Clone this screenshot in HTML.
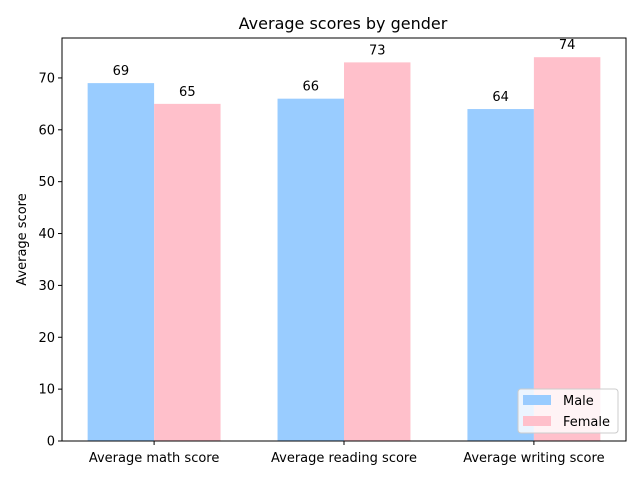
<!DOCTYPE html>
<html><head><meta charset="utf-8"><style>
body{margin:0;background:#fff;font-family:"Liberation Sans","DejaVu Sans",sans-serif;}
svg text{font-family:"DejaVu Sans","Liberation Sans",sans-serif;}
</style></head><body>
<svg id="chart" width="640" height="480" xmlns="http://www.w3.org/2000/svg">
<rect width="640" height="480" fill="#fff"/>
<text x="343" y="29" font-size="16" text-anchor="middle">Average scores by gender</text>
<g id="plot"></g>
</svg>
<script>
const categories=["Average math score","Average reading score","Average writing score"];
const maleValues=[69,66,64];
const femaleValues=[65,73,74];
const yTicks=[0,10,20,30,40,50,60,70];
const L=62,R=626,T=38,B=441;
const ymax=77.7;
const xmin=-0.485,xmax=2.485;
const X=v=>L+(v-xmin)/(xmax-xmin)*(R-L);
const Y=v=>B-v/ymax*(B-T);
const NS="http://www.w3.org/2000/svg";
const g=document.getElementById('plot');
function mk(tag,attrs,parent){const e=document.createElementNS(NS,tag);for(const k in attrs)e.setAttribute(k,attrs[k]);(parent||g).appendChild(e);return e;}
const w=0.35;
function series(vals,off,color,name){
 vals.forEach((v,i)=>{
  const r=mk('rect',{x:X(i+off-w/2),y:Y(v),width:X(i+off+w/2)-X(i+off-w/2),height:B-Y(v),fill:color});
  
  
  const t=mk('text',{x:X(i+off),y:Y(v)-8,'font-size':13,'text-anchor':'middle'});
  t.textContent=v;
  
  
 });
}
series(maleValues,-w/2,'#99ccff','male');
series(femaleValues,w/2,'#ffc0cb','female');
const f=mk('rect',{x:L,y:T,width:R-L,height:B-T,fill:'none',stroke:'#000','stroke-width':1});


yTicks.forEach(t=>{
 mk('line',{x1:L-4,x2:L,y1:Y(t),y2:Y(t),stroke:'#000'});
 const tx=mk('text',{x:L-7,y:Y(t)+4.5,'font-size':13,'text-anchor':'end'});
 tx.textContent=t;
 
 
});
categories.forEach((c,i)=>{
 mk('line',{x1:X(i),x2:X(i),y1:B,y2:B+4,stroke:'#000'});
 const tx=mk('text',{x:X(i),y:B+21,'font-size':13,'text-anchor':'middle'});
 tx.textContent=c;
 
 
});
const yl=mk('text',{x:26,y:(T+B)/2,'font-size':13,'text-anchor':'middle',transform:`rotate(-90 26 ${(T+B)/2})`});
yl.textContent='Average score';


const lg=mk('g',{});


mk('rect',{x:518,y:389,width:100,height:44,rx:3,fill:'#fff','fill-opacity':0.8,stroke:'#ccc'},lg);
mk('rect',{x:523,y:395,width:28,height:10,fill:'#99ccff'},lg);
const l1=mk('text',{x:563,y:405,'font-size':13},lg);l1.textContent='Male';


mk('rect',{x:523,y:416,width:28,height:10,fill:'#ffc0cb'},lg);
const l2=mk('text',{x:563,y:426,'font-size':13},lg);l2.textContent='Female';


</script>
</body></html>
